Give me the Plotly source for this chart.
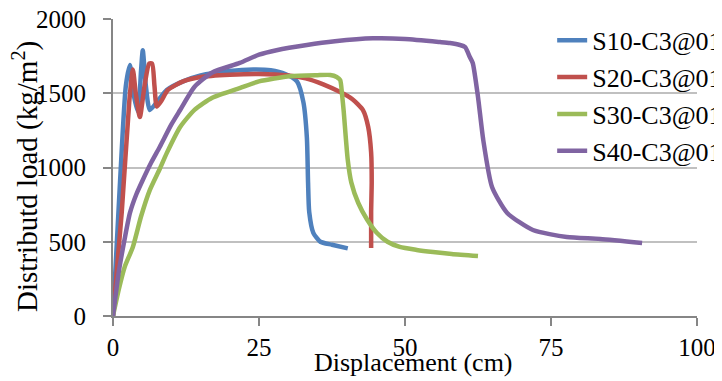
import plotly.graph_objects as go

series_names = ["S10-C3@01", "S20-C3@01", "S30-C3@01", "S40-C3@01"]

s10_x = [0, 1.2, 2.2, 2.9, 3.5, 4.3, 4.8, 5.1, 5.6, 6.3, 7.5, 9.2, 12, 15, 20, 24, 27, 29.5, 31.5, 32.6, 33.2, 33.4, 33.6, 34.3, 35.5, 37.5, 40.2]
s10_y = [0, 900, 1550, 1690, 1500, 1374, 1650, 1790, 1560, 1387, 1440, 1522, 1580, 1620, 1650, 1660, 1655, 1630, 1580, 1440, 1200, 900, 700, 560, 500, 480, 455]

s20_x = [0, 1.5, 2.8, 3.4, 3.9, 4.6, 5.4, 6.2, 6.7, 7.1, 7.5, 8.3, 9.4, 12, 15, 20, 25, 30, 33, 36, 38.9, 41, 42.8, 43.7, 44.2, 44.3, 44.2, 44.2]
s20_y = [0, 700, 1450, 1660, 1500, 1340, 1550, 1700, 1700, 1550, 1410, 1450, 1522, 1580, 1610, 1625, 1630, 1620, 1600, 1560, 1508, 1460, 1387, 1273, 1100, 900, 700, 458]

s30_x = [0, 1, 2, 3.4, 4.8, 6.3, 8, 9.2, 11.5, 14, 17, 21.7, 25, 30.3, 35, 37.2, 38.3, 38.9, 39.2, 39.5, 40.2, 40.8, 42, 43.5, 45.2, 47, 49.1, 52, 54.8, 58, 62.5]
s30_y = [0, 180, 330, 465, 670, 848, 990, 1097, 1273, 1390, 1470, 1535, 1580, 1615, 1622, 1623, 1610, 1589, 1500, 1380, 1050, 900, 761, 650, 559, 500, 465, 445, 431, 418, 404]

s40_x = [0, 1, 2, 2.9, 4, 5.1, 6.5, 8, 10, 11.5, 14, 17, 21.7, 25, 28, 33.2, 38, 44.5, 50, 56, 57.7, 59.4, 60.3, 61.1, 61.6, 62.5, 63.4, 64.9, 67.5, 71.9, 77.7, 83.4, 90.6]
s40_y = [0, 300, 520, 694, 820, 916, 1030, 1138, 1290, 1387, 1545, 1640, 1704, 1760, 1790, 1825, 1850, 1870, 1866, 1845, 1838, 1825, 1811, 1744, 1704, 1475, 1185, 869, 694, 579, 532, 519, 492]

x_ticks = [0, 25, 50, 75, 100]
y_ticks = [0, 500, 1000, 1500, 2000]

colors = ["#4F81BD", "#C0504D", "#9BBB59", "#8064A2"]
xs = [s10_x, s20_x, s30_x, s40_x]
ys = [s10_y, s20_y, s30_y, s40_y]

FONT = "Liberation Serif"

fig = go.Figure()
for name, x, y, c in zip(series_names, xs, ys, colors):
    fig.add_trace(go.Scatter(x=x, y=y, name=name, mode="lines",
                             line=dict(color=c, width=4.5, shape="spline", smoothing=0.6)))

fig.update_layout(
    width=714, height=373,
    margin=dict(l=105, r=25, t=11, b=65, autoexpand=False),
    paper_bgcolor="white", plot_bgcolor="white",
    font=dict(family=FONT, size=25, color="black"),
    showlegend=True,
    legend=dict(x=0.752, y=1.007, xanchor="left", yanchor="top",
                bgcolor="rgba(0,0,0,0)", font=dict(family=FONT, size=26, color="black"),
                tracegroupgap=0, itemwidth=30),
    xaxis=dict(range=[0, 100], tickvals=x_ticks, ticktext=[str(v) for v in x_ticks],
               showgrid=False, zeroline=False, showline=True, linecolor="#868686", linewidth=2,
               ticks="outside", ticklen=8, tickwidth=2, tickcolor="#868686", automargin=False,
               ticklabelstandoff=0, ticklabeloverflow="allow",
               tickfont=dict(family=FONT, size=25, color="black")),
    yaxis=dict(range=[0, 2000], tickvals=y_ticks, ticktext=[str(v) for v in y_ticks],
               showgrid=True, gridcolor="#C0C0C0", gridwidth=1.5, zeroline=False,
               showline=True, linecolor="#868686", linewidth=2, automargin=False,
               ticks="outside", ticklen=8, tickwidth=2, tickcolor="#868686",
               ticklabelstandoff=12, ticklabeloverflow="allow",
               tickfont=dict(family=FONT, size=25, color="black")),
    annotations=[
        dict(text="Displacement (cm)", xref="paper", yref="paper", x=0.514, y=-0.158,
             xanchor="center", yanchor="middle", showarrow=False,
             font=dict(family=FONT, size=26, color="black")),
        dict(text="Distributd load (kg/m<sup>2</sup>)", xref="paper", yref="paper", x=-0.151, y=0.471,
             xanchor="center", yanchor="middle", showarrow=False, textangle=-90,
             font=dict(family=FONT, size=29, color="black")),
    ],
)

fig.write_html("out.html")
